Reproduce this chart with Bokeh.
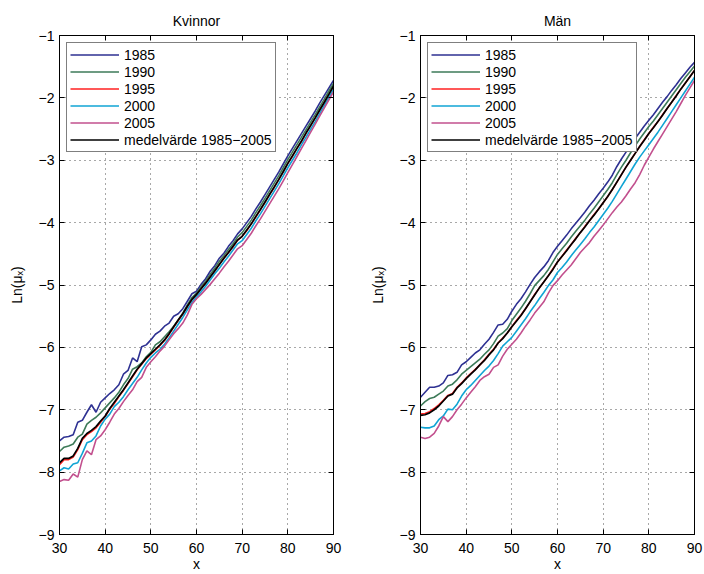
from bokeh.plotting import figure
from bokeh.models import LinearAxis, FixedTicker, Legend, LegendItem, Range1d
from bokeh.layouts import row
from bokeh.embed import file_html
from bokeh.resources import INLINE

ages = list(range(30, 91))
x_ticks = [30, 40, 50, 60, 70, 80, 90]
y_ticks = [-9, -8, -7, -6, -5, -4, -3, -2, -1]
y_tick_labels = {-9: "\u22129", -8: "\u22128", -7: "\u22127", -6: "\u22126", -5: "\u22125",
                 -4: "\u22124", -3: "\u22123", -2: "\u22122", -1: "\u22121"}
series_labels = ["1985", "1990", "1995", "2000", "2005"]
mean_label = "medelv\u00e4rde 1985\u22122005"
panel_titles = ["Kvinnor", "M\u00e4n"]

# Kvinnor (women), ln(mu_x), ages 30..90
kv_1985 = [-7.50, -7.44, -7.43, -7.40, -7.20, -7.17, -7.04, -6.92, -7.04, -6.88,
           -6.81, -6.74, -6.68, -6.60, -6.43, -6.37, -6.17, -6.23, -5.99, -5.96,
           -5.88, -5.79, -5.74, -5.66, -5.61, -5.50, -5.46, -5.38, -5.26, -5.14,
           -5.10, -4.99, -4.90, -4.78, -4.69, -4.57, -4.49, -4.38, -4.29, -4.18,
           -4.10, -4.00, -3.90, -3.78, -3.67, -3.55, -3.43, -3.31, -3.19, -3.06,
           -2.93, -2.81, -2.69, -2.57, -2.45, -2.33, -2.21, -2.08, -1.96, -1.84,
           -1.72]
kv_1990 = [-7.67, -7.60, -7.58, -7.55, -7.44, -7.39, -7.23, -7.17, -7.12, -7.05,
           -6.97, -6.89, -6.81, -6.72, -6.60, -6.50, -6.35, -6.31, -6.25, -6.15,
           -6.08, -5.96, -5.91, -5.83, -5.75, -5.66, -5.56, -5.45, -5.32, -5.20,
           -5.13, -5.03, -4.94, -4.83, -4.73, -4.62, -4.53, -4.43, -4.34, -4.23,
           -4.16, -4.06, -3.96, -3.84, -3.73, -3.61, -3.49, -3.37, -3.25, -3.12,
           -2.99, -2.87, -2.75, -2.63, -2.51, -2.39, -2.27, -2.14, -2.02, -1.89,
           -1.77]
kv_1995 = [-7.88, -7.80, -7.80, -7.76, -7.64, -7.48, -7.40, -7.35, -7.29, -7.20,
           -7.11, -6.99, -6.90, -6.79, -6.69, -6.58, -6.47, -6.36, -6.27, -6.18,
           -6.11, -6.04, -5.97, -5.89, -5.79, -5.68, -5.57, -5.47, -5.35, -5.24,
           -5.16, -5.06, -4.97, -4.87, -4.78, -4.67, -4.57, -4.48, -4.39, -4.28,
           -4.22, -4.13, -4.02, -3.91, -3.79, -3.68, -3.55, -3.44, -3.31, -3.19,
           -3.05, -2.94, -2.81, -2.70, -2.57, -2.45, -2.32, -2.20, -2.07, -1.95,
           -1.82]
kv_2000 = [-7.98, -7.93, -7.95, -7.87, -7.85, -7.70, -7.53, -7.50, -7.42, -7.26,
           -7.15, -7.07, -6.95, -6.88, -6.79, -6.68, -6.58, -6.48, -6.36, -6.25,
           -6.16, -6.09, -6.03, -5.95, -5.85, -5.74, -5.63, -5.52, -5.40, -5.28,
           -5.19, -5.11, -5.02, -4.92, -4.82, -4.73, -4.63, -4.54, -4.44, -4.34,
           -4.29, -4.19, -4.09, -3.97, -3.86, -3.74, -3.62, -3.50, -3.38, -3.25,
           -3.12, -3.00, -2.88, -2.75, -2.63, -2.50, -2.38, -2.25, -2.12, -1.99,
           -1.86]
kv_2005 = [-8.15, -8.12, -8.13, -8.03, -8.08, -7.80, -7.66, -7.72, -7.48, -7.42,
           -7.32, -7.20, -7.07, -6.98, -6.87, -6.77, -6.68, -6.55, -6.48, -6.32,
           -6.23, -6.15, -6.06, -5.98, -5.88, -5.78, -5.70, -5.61, -5.48, -5.31,
           -5.22, -5.15, -5.07, -4.99, -4.90, -4.81, -4.71, -4.62, -4.52, -4.42,
           -4.37, -4.27, -4.17, -4.05, -3.94, -3.82, -3.70, -3.58, -3.46, -3.33,
           -3.20, -3.07, -2.94, -2.81, -2.68, -2.55, -2.42, -2.29, -2.16, -2.03,
           -1.90]
kv_mean = [-7.85, -7.78, -7.78, -7.74, -7.62, -7.46, -7.38, -7.33, -7.27, -7.18,
           -7.10, -6.98, -6.88, -6.78, -6.68, -6.57, -6.46, -6.35, -6.26, -6.17,
           -6.10, -6.03, -5.96, -5.88, -5.78, -5.67, -5.56, -5.46, -5.34, -5.23,
           -5.15, -5.06, -4.97, -4.87, -4.77, -4.67, -4.57, -4.48, -4.38, -4.28,
           -4.22, -4.12, -4.02, -3.90, -3.79, -3.67, -3.55, -3.43, -3.31, -3.18,
           -3.05, -2.93, -2.81, -2.69, -2.56, -2.44, -2.32, -2.19, -2.07, -1.94,
           -1.81]

# Män (men)
man_1985 = [-6.80, -6.72, -6.64, -6.64, -6.62, -6.57, -6.45, -6.44, -6.40, -6.28,
            -6.23, -6.16, -6.09, -6.04, -5.95, -5.87, -5.76, -5.64, -5.63, -5.55,
            -5.42, -5.31, -5.22, -5.11, -4.99, -4.88, -4.79, -4.71, -4.61, -4.48,
            -4.38, -4.29, -4.20, -4.10, -4.01, -3.92, -3.83, -3.73, -3.64, -3.54,
            -3.45, -3.35, -3.24, -3.10, -2.98, -2.87, -2.76, -2.65, -2.55, -2.45,
            -2.36, -2.27, -2.17, -2.07, -1.98, -1.88, -1.79, -1.69, -1.60, -1.51,
            -1.43]
man_1990 = [-6.94, -6.87, -6.82, -6.80, -6.75, -6.70, -6.62, -6.59, -6.52, -6.43,
            -6.37, -6.31, -6.25, -6.19, -6.11, -6.04, -5.94, -5.82, -5.77, -5.70,
            -5.57, -5.47, -5.37, -5.26, -5.14, -5.01, -4.93, -4.85, -4.75, -4.63,
            -4.51, -4.42, -4.33, -4.23, -4.14, -4.05, -3.96, -3.86, -3.77, -3.67,
            -3.57, -3.47, -3.36, -3.23, -3.11, -3.00, -2.88, -2.77, -2.66, -2.56,
            -2.46, -2.37, -2.27, -2.17, -2.07, -1.97, -1.87, -1.77, -1.67, -1.58,
            -1.49]
man_1995 = [-7.07, -7.06, -7.03, -6.98, -6.92, -6.85, -6.77, -6.74, -6.64, -6.57,
            -6.49, -6.42, -6.35, -6.28, -6.20, -6.11, -6.03, -5.93, -5.85, -5.77,
            -5.67, -5.57, -5.48, -5.38, -5.27, -5.15, -5.05, -4.95, -4.85, -4.74,
            -4.63, -4.54, -4.44, -4.35, -4.25, -4.16, -4.06, -3.97, -3.87, -3.78,
            -3.68, -3.58, -3.47, -3.35, -3.23, -3.11, -3.00, -2.89, -2.78, -2.67,
            -2.57, -2.47, -2.38, -2.27, -2.17, -2.07, -1.96, -1.86, -1.76, -1.66,
            -1.56]
man_2000 = [-7.28, -7.29, -7.29, -7.26, -7.16, -7.10, -6.99, -7.00, -6.91, -6.78,
            -6.68, -6.61, -6.53, -6.45, -6.37, -6.30, -6.21, -6.10, -5.98, -5.91,
            -5.84, -5.74, -5.64, -5.54, -5.43, -5.33, -5.22, -5.12, -5.01, -4.92,
            -4.80, -4.72, -4.63, -4.53, -4.44, -4.35, -4.26, -4.16, -4.07, -3.97,
            -3.87, -3.77, -3.66, -3.54, -3.42, -3.30, -3.18, -3.06, -2.95, -2.85,
            -2.75, -2.65, -2.55, -2.44, -2.33, -2.22, -2.11, -2.00, -1.89, -1.78,
            -1.67]
man_2005 = [-7.44, -7.46, -7.44, -7.38, -7.26, -7.11, -7.19, -7.11, -7.00, -6.91,
            -6.81, -6.72, -6.63, -6.53, -6.47, -6.43, -6.32, -6.28, -6.14, -6.03,
            -5.95, -5.87, -5.77, -5.66, -5.56, -5.45, -5.36, -5.27, -5.13, -5.01,
            -4.93, -4.84, -4.76, -4.68, -4.58, -4.48, -4.40, -4.32, -4.22, -4.13,
            -4.04, -3.94, -3.84, -3.75, -3.67, -3.57, -3.46, -3.36, -3.23, -3.08,
            -2.95, -2.82, -2.70, -2.58, -2.46, -2.34, -2.22, -2.09, -1.96, -1.84,
            -1.72]
man_mean = [-7.09, -7.08, -7.05, -7.00, -6.94, -6.86, -6.78, -6.75, -6.65, -6.58,
            -6.50, -6.43, -6.36, -6.28, -6.21, -6.12, -6.04, -5.93, -5.86, -5.77,
            -5.67, -5.58, -5.49, -5.38, -5.27, -5.16, -5.05, -4.95, -4.85, -4.75,
            -4.63, -4.54, -4.45, -4.35, -4.26, -4.16, -4.07, -3.97, -3.88, -3.78,
            -3.68, -3.58, -3.47, -3.35, -3.23, -3.11, -3.00, -2.89, -2.78, -2.68,
            -2.57, -2.48, -2.38, -2.28, -2.17, -2.07, -1.97, -1.86, -1.76, -1.66,
            -1.56]

colors = ["#2e3192", "#3d7a58", "#ff2020", "#10a4d4", "#c2508e"]
mean_color = "#000000"
FONT = "Liberation Sans"


def style_axis(ax, ticks, show_labels, overrides=None):
    ax.ticker = FixedTicker(ticks=ticks)
    ax.major_tick_in = 5
    ax.major_tick_out = 0
    ax.minor_tick_in = 0
    ax.minor_tick_out = 0
    ax.major_tick_line_color = "#000000"
    ax.axis_line_color = "#000000"
    ax.axis_line_width = 1
    ax.major_label_text_font = FONT
    ax.major_label_text_color = "#000000"
    ax.major_label_text_font_size = "14px"
    if show_labels:
        ax.major_label_standoff = 5
        if overrides:
            ax.major_label_overrides = overrides
    else:
        ax.major_label_standoff = 0
        ax.major_label_overrides = {t: "" for t in ticks}


def make_panel(title, data, mean, border_left, border_right):
    p = figure(width=352, height=574, x_range=Range1d(30, 90), y_range=Range1d(-9, -1),
               output_backend="svg", toolbar_location=None, title=title,
               min_border_left=border_left, min_border_right=border_right,
               min_border_top=35, min_border_bottom=37)
    p.background_fill_color = "#ffffff"
    p.border_fill_color = "#ffffff"
    p.outline_line_color = "#000000"
    p.outline_line_width = 1
    p.title.align = "center"
    p.title.text_font = FONT
    p.title.text_font_size = "14px"
    p.title.text_font_style = "normal"
    p.title.text_color = "#000000"
    p.title.standoff = 13

    style_axis(p.below[0], x_ticks, True)
    style_axis(p.left[0], y_ticks, True, y_tick_labels)
    p.below[0].major_label_standoff = 8
    p.below[0].axis_label = "x"
    p.left[0].axis_label = "Ln(\u03bc\u2093)"
    for ax in (p.below[0], p.left[0]):
        ax.axis_label_text_font = FONT
        ax.axis_label_text_font_size = "14px"
        ax.axis_label_text_font_style = "normal"
        ax.axis_label_text_color = "#000000"
    p.below[0].axis_label_standoff = 0
    p.left[0].axis_label_standoff = 11

    top = LinearAxis()
    style_axis(top, x_ticks, False)
    p.add_layout(top, "above")
    right = LinearAxis()
    style_axis(right, y_ticks, False)
    p.add_layout(right, "right")

    for g in (p.xgrid[0], p.ygrid[0]):
        g.grid_line_color = "#505050"
        g.grid_line_dash = "1 4"
        g.grid_line_width = 1
    p.xgrid[0].ticker = FixedTicker(ticks=x_ticks)
    p.ygrid[0].ticker = FixedTicker(ticks=y_ticks)

    items = []
    for lab, vals, col in zip(series_labels, data, colors):
        r = p.line(ages, vals, line_color=col, line_width=1.6)
        items.append(LegendItem(label=lab, renderers=[r]))
    rm = p.line(ages, mean, line_color=mean_color, line_width=1.7)
    items.append(LegendItem(label=mean_label, renderers=[rm]))

    legend = Legend(items=items, location="top_left")
    legend.margin = 7
    legend.padding = 3
    legend.spacing = 0
    legend.glyph_width = 49
    legend.glyph_height = 17
    legend.label_height = 17
    legend.label_standoff = 5
    legend.label_text_font = FONT
    legend.label_text_font_size = "14px"
    legend.label_text_color = "#000000"
    legend.border_line_color = "#000000"
    legend.border_line_width = 1
    legend.background_fill_color = "#ffffff"
    legend.background_fill_alpha = 1
    p.add_layout(legend)
    return p


p1 = make_panel(panel_titles[0], [kv_1985, kv_1990, kv_1995, kv_2000, kv_2005], kv_mean, 59, 19)
p2 = make_panel(panel_titles[1], [man_1985, man_1990, man_1995, man_2000, man_2005], man_mean, 68, 10)

layout = row(p1, p2)
open("out.html", "w").write(file_html(layout, INLINE))
